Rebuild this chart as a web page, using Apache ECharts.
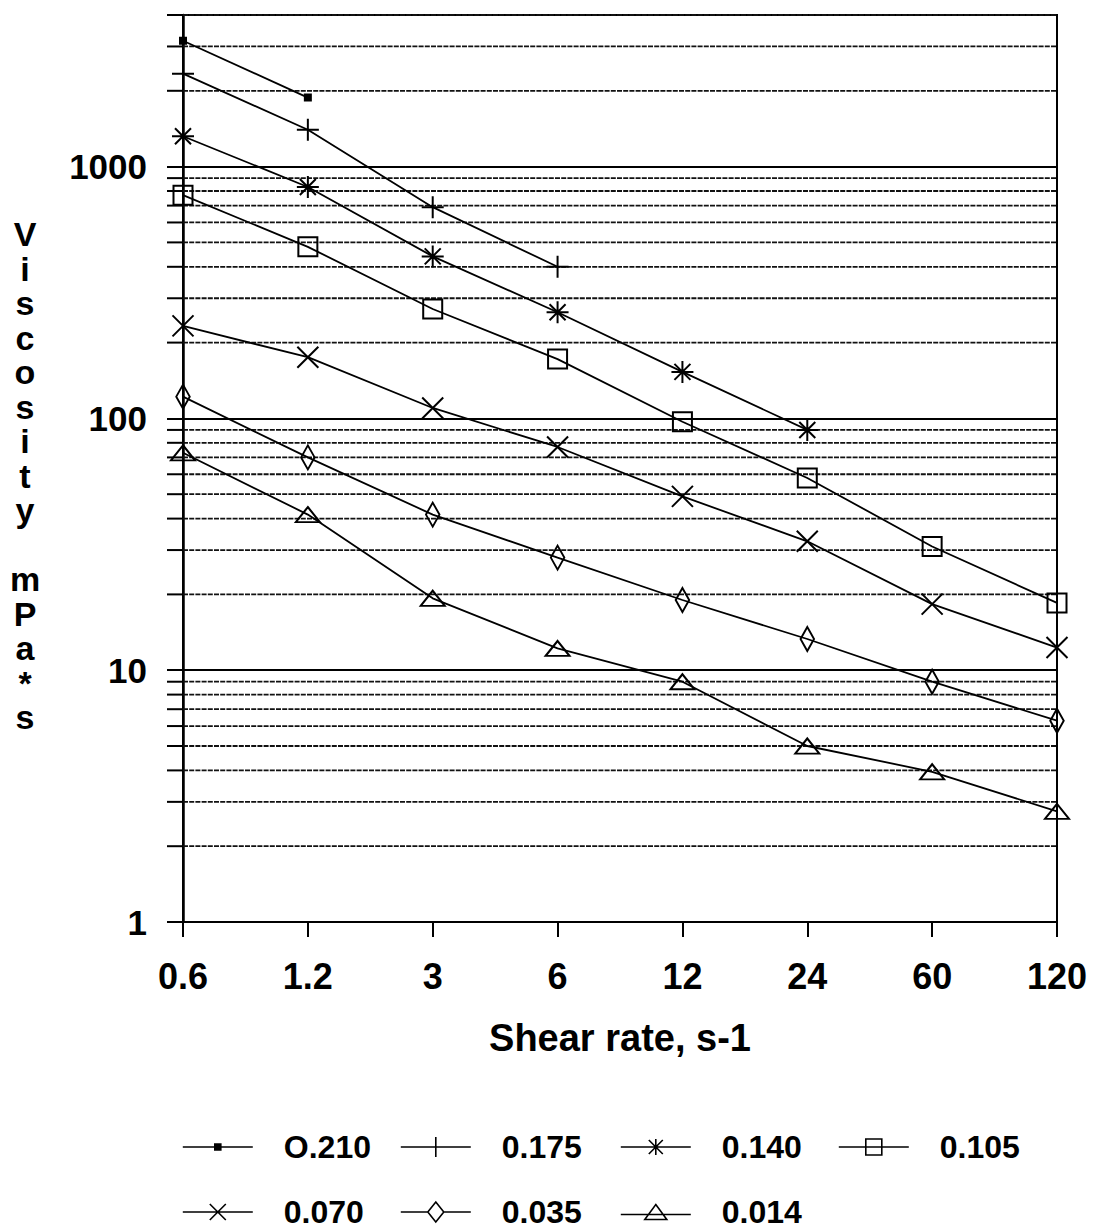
<!DOCTYPE html>
<html>
<head>
<meta charset="utf-8">
<script src="https://cdn.jsdelivr.net/npm/echarts@6/dist/echarts.min.js"></script>
<style>
  html, body { margin: 0; padding: 0; background: #fff; }
  #chart { width: 1097px; height: 1230px; }
</style>
</head>
<body>
<div id="chart"></div>
<script>
// ---------- data ----------
const shearRates = ['0.6', '1.2', '3', '6', '12', '24', '60', '120'];
const seriesNames = ['O.210', '0.175', '0.140', '0.105', '0.070', '0.035', '0.014'];
const visc210 = [3160, 1880];
const visc175 = [2340, 1400, 690, 400];
const visc140 = [1320, 830, 440, 264, 153, 90];
const visc105 = [770, 480, 272, 172, 97, 58, 31, 18.5];
const visc070 = [233, 175, 110, 77, 49, 32.5, 18.3, 12.3];
const visc035 = [122, 70, 41.5, 28, 19, 13.3, 9, 6.3];
const visc014 = [73, 41.5, 19.3, 12.2, 9.0, 5.0, 3.95, 2.75];
const yMin = 1;
const yMax = 4000;
const minorGridValues = [2, 3, 4, 5, 6, 7, 8, 9, 20, 30, 40, 50, 60, 70, 80, 90,
  200, 300, 400, 500, 600, 700, 800, 900, 2000, 3000, 4000];
const xAxisTitle = 'Shear rate, s-1';
const yAxisTitle = 'V\ni\ns\nc\no\ns\ni\nt\ny\n\nm\nP\na\n*\ns';

// ---------- styles ----------
const FONT = '"Liberation Sans", Arial, Helvetica, sans-serif';
const allData = [visc210, visc175, visc140, visc105, visc070, visc035, visc014];
const markers = [
  { symbol: 'rect', size: 6, fill: '#000' },
  { symbol: 'path://M0,11L22,11M11,0L11,22', size: 22, fill: 'transparent' },
  { symbol: 'path://M0,11L22,11M11,0L11,22M3,3L19,19M19,3L3,19', size: 22, fill: 'transparent' },
  { symbol: 'path://M0,0L19,0L19,19L0,19Z', size: 19, fill: 'transparent' },
  { symbol: 'path://M0,0L21,21M21,0L0,21', size: 21, fill: 'transparent' },
  { symbol: 'path://M9,0L18,12L9,24L0,12Z', size: [18, 24], fill: 'transparent' },
  { symbol: 'path://M12,0L24,19L0,19Z', size: [24, 19], fill: 'transparent' }
];
const legendIcons = [
  { icon: 'path://M0,3L70,3M32,0L38,0L38,6L32,6Z', h: 6, fill: '#000' },
  { icon: 'path://M0,10L70,10M35,0L35,20', h: 20, fill: 'transparent' },
  { icon: 'path://M0,8L70,8M35,0L35,16M28,1L42,15M42,1L28,15', h: 16, fill: 'transparent' },
  { icon: 'path://M0,8L70,8M27,0L43,0L43,16L27,16Z', h: 16, fill: 'transparent' },
  { icon: 'path://M0,8L70,8M27,0L43,16M43,0L27,16', h: 16, fill: 'transparent' },
  { icon: 'path://M0,10L27,10M43,10L70,10M35,0L43,10L35,20L27,10Z', h: 20, fill: 'transparent' },
  { icon: 'path://M0,10L70,10M35,0L46,15L24,15Z', h: 15, fill: 'transparent' }
];
const legendCols = [182, 400, 620, 838];
const legendRowTops = [1131, 1196];

const chart = echarts.init(document.getElementById('chart'), null, { renderer: 'svg' });

const lineSeries = seriesNames.map((name, i) => ({
  name: name,
  type: 'line',
  data: allData[i],
  symbol: markers[i].symbol,
  symbolSize: markers[i].size,
  symbolKeepAspect: true,
  showAllSymbol: true,
  lineStyle: { color: '#000', width: 1.8 },
  itemStyle: { color: markers[i].fill, borderColor: '#000', borderWidth: 2 },
  emphasis: { disabled: true },
  z: 5
}));

const gridSeries = {
  type: 'custom',
  name: 'minorGrid',
  silent: true,
  clip: false,
  z: 1,
  data: minorGridValues.map(v => [0, v]),
  renderItem: function (params, api) {
    const v = api.value(1);
    const p0 = api.coord([0, v]);
    const p1 = api.coord([shearRates.length - 1, v]);
    return {
      type: 'group',
      children: [
        { type: 'line', shape: { x1: p0[0] - 16, y1: p0[1], x2: p0[0], y2: p0[1] },
          style: { stroke: '#000', lineWidth: 2 } },
        { type: 'line', shape: { x1: p0[0], y1: p0[1], x2: p1[0], y2: p1[1] },
          style: { stroke: '#111', lineWidth: 1.8, lineDash: [5, 1.2] } }
      ]
    };
  }
};

const legends = seriesNames.map((name, i) => ({
  show: true,
  selectedMode: false,
  orient: 'horizontal',
  left: legendCols[i % 4],
  top: legendRowTops[Math.floor(i / 4)],
  padding: 0,
  itemWidth: 70,
  itemHeight: legendIcons[i].h,
  data: [{ name: name, icon: legendIcons[i].icon }],
  itemStyle: { color: legendIcons[i].fill, borderColor: '#000', borderWidth: 1.6 },
  textStyle: { fontFamily: FONT, fontWeight: 'bold', fontSize: 32, color: '#000',
    lineHeight: 32, padding: [0, 0, 0, 26] }
}));

chart.setOption({
  animation: false,
  backgroundColor: '#fff',
  grid: { left: 183, right: 40, top: 15, bottom: 308, show: true,
    borderColor: '#000', borderWidth: 2, backgroundColor: 'transparent',
    outerBoundsMode: 'none', containLabel: false },
  legend: legends,
  xAxis: {
    type: 'category',
    data: shearRates,
    boundaryGap: false,
    axisLine: { lineStyle: { color: '#000', width: 2 } },
    axisTick: { show: true, length: 15, lineStyle: { color: '#000', width: 2 } },
    axisLabel: { margin: 36, fontFamily: FONT, fontWeight: 'bold', fontSize: 36, color: '#000',
      interval: 0 },
    splitLine: { show: false },
    name: xAxisTitle,
    nameLocation: 'middle',
    nameGap: 97,
    nameTextStyle: { fontFamily: FONT, fontWeight: 'bold', fontSize: 38, color: '#000' }
  },
  yAxis: {
    type: 'log',
    logBase: 10,
    min: yMin,
    max: yMax,
    axisLine: { show: true, lineStyle: { color: '#000', width: 2.5 } },
    axisTick: { show: true, length: 16, lineStyle: { color: '#000', width: 2 } },
    axisLabel: { margin: 36, fontFamily: FONT, fontWeight: 'bold', fontSize: 35, color: '#000',
      showMaxLabel: false, formatter: v => String(Math.round(v)) },
    splitLine: { show: true, lineStyle: { color: '#000', width: 2.2 } },
    minorTick: { show: false },
    minorSplitLine: { show: false }
  },
  graphic: [{
    type: 'text',
    x: 25,
    y: 217,
    style: {
      text: yAxisTitle,
      font: 'bold 34px ' + FONT,
      fill: '#000',
      textAlign: 'center',
      textVerticalAlign: 'top',
      lineHeight: 34.5
    }
  }],
  series: [gridSeries].concat(lineSeries)
});
</script>
</body>
</html>
